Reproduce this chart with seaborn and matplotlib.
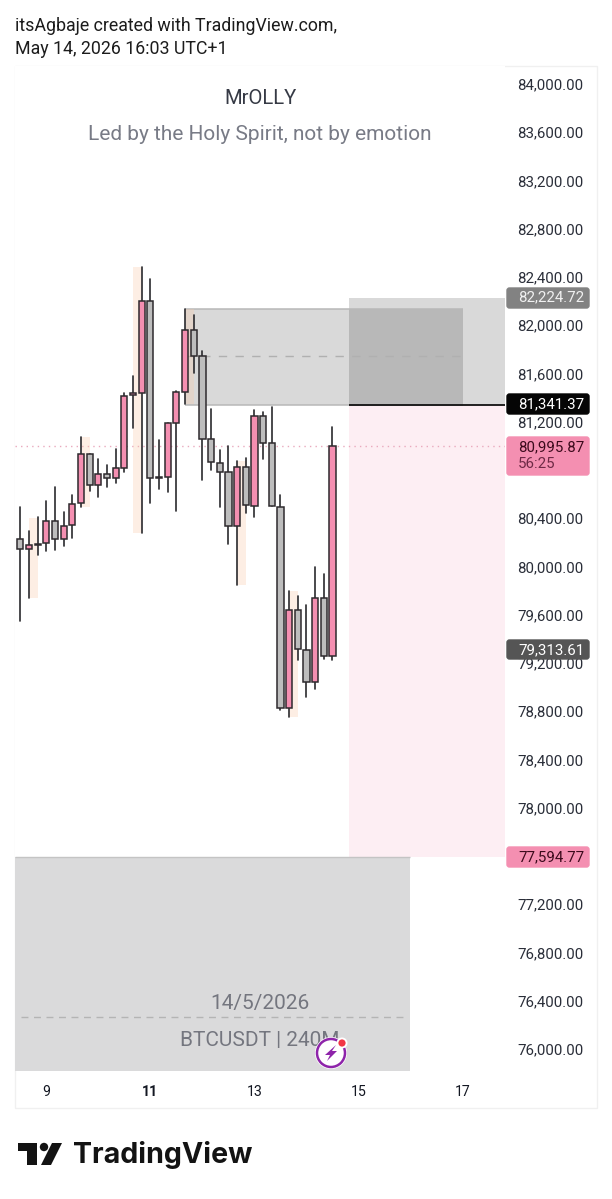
import matplotlib
matplotlib.use('Agg')
import matplotlib.pyplot as plt
import pandas as pd
import seaborn as sns
from matplotlib.patches import Rectangle, FancyBboxPatch, Circle, Polygon
from matplotlib.transforms import Affine2D

# 4h candles
opens = [80228, 80142, 80178, 80192, 80379, 80228, 80341, 80524, 80932, 80678, 80769, 80736, 80819,
         81419, 81435, 82203, 80744, 80739, 81193, 81446, 81960, 81742, 81054, 80860, 80780, 80333,
         80827, 80504, 81245, 81021, 80495, 78824, 79636, 79307, 79042, 79741, 79258]
closes = [80142, 80175, 80189, 80379, 80228, 80338, 80520, 80932, 80678, 80769, 80736, 80816, 81416,
          81435, 82203, 80736, 80736, 81192, 81444, 81960, 81745, 81059, 80866, 80785, 80333, 80827,
          80507, 81245, 81026, 80501, 78824, 79636, 79313, 79045, 79741, 79258, 80996]
highs = [80495, 80296, 80407, 80545, 80661, 80451, 80595, 81076, 80932, 80888, 80839, 80976, 81435,
         81581, 82480, 82381, 81048, 81192, 81457, 82137, 82082, 81789, 81303, 80963, 80999, 80872,
         80897, 81297, 81280, 81324, 80590, 79796, 79755, 79680, 79998, 79937, 81154]
lows = [79550, 79738, 80092, 80131, 80136, 80167, 80233, 80490, 80623, 80573, 80661, 80694, 80785,
        81148, 80280, 80528, 80640, 80620, 80464, 81344, 81601, 80717, 80800, 80495, 80186, 79846,
        80446, 80412, 80888, 80501, 78810, 78754, 79224, 78920, 78982, 79233, 79224]

# pale session bands behind some candles
band_start = [1, 7, 13, 19, 25, 31]
band_high = [80402, 81076, 82480, 82137, 80872, 79796]
band_low = [79738, 80490, 80280, 81344, 79846, 78754]

day_ticks = [3, 15, 27, 39, 51]
day_labels = ['9', '11', '13', '15', '17']
# 80,800 and 77,600 sit under the price tags in the original
price_ticks = [84000, 83600, 83200, 82800, 82400, 82000, 81600, 81200, 80400, 80000, 79600, 79200,
               78800, 78400, 78000, 77200, 76800, 76400, 76000]

sl_price = 82224.72
entry_price = 81341.37
last_price = 80995.87
tp_price = 77594.77
sma_price = 79313.61
upper_zone = (82137, 81341.37)
upper_mid = 81745
lower_mid = 76265

sns.set_theme(style='white')
plt.rcParams['font.family'] = ['Roboto', 'DejaVu Sans']

W, H = 612, 1199
fig = plt.figure(figsize=(W / 100, H / 100), dpi=100)
ax = fig.add_axes([15 / W, (H - 1071) / H, 490 / W, 1005 / H])
px = Affine2D().scale(1 / W, -1 / H).translate(0, 1) + fig.transFigure

df = pd.DataFrame({'bar': range(len(opens)), 'open': opens, 'close': closes, 'high': highs, 'low': lows})
df['top'] = df[['open', 'close']].max(axis=1)
df['bottom'] = df[['open', 'close']].min(axis=1)
df['body'] = df['top'] - df['bottom']
df['up'] = df['close'] >= df['open']

xmin, xmax = -0.61, 55.9
ymin, ymax = 75817.6, 84149.2

# zones and bands
gray = '#000000'
ax.add_patch(Rectangle((19, upper_zone[1]), 32, upper_zone[0] - upper_zone[1], fc=gray, alpha=0.15, lw=0, zorder=1))
ax.hlines(upper_zone, 19, 51, color='#b8b8b8', lw=1.1, zorder=1.1)
ax.add_patch(Rectangle((37.9, entry_price), xmax - 37.9, sl_price - entry_price, fc=gray, alpha=0.15, lw=0, zorder=1))
ax.add_patch(Rectangle((37.9, tp_price), xmax - 37.9, entry_price - tp_price, fc='#fdeef3', lw=0, zorder=0.9))
ax.add_patch(Rectangle((xmin, ymin), 44.9 - xmin, tp_price - ymin, fc='#dadadb', lw=0, zorder=1))
ax.hlines(tp_price, xmin, 44.9, color='#c4c4c4', lw=1, zorder=1.1)
ax.hlines(upper_mid, 19, 51, color='#b0b0b0', lw=1, linestyles=(0, (6, 6)), zorder=1.2)
ax.hlines(lower_mid, 0.1, 44.6, color='#b4b4b4', lw=1, linestyles=(0, (5, 4)), zorder=1.2)
ax.hlines(entry_price, 37.9, xmax, color='#111111', lw=1.3, zorder=1.3)
ax.axhline(last_price, color='#e9a9bd', lw=1, ls=(0, (1, 3)), zorder=1.2)
for s, h, l in zip(band_start, band_high, band_low):
    ax.add_patch(Rectangle((s, l), 1, h - l, fc='#f9c9a8', alpha=0.3, lw=0, zorder=1.4))

# wicks
wicks = df.melt(id_vars='bar', value_vars=['high', 'low'], value_name='price')
sns.lineplot(data=wicks, x='bar', y='price', units='bar', estimator=None, color='#2a2a2e', lw=1.2,
             ax=ax, legend=False, zorder=2)

# bodies, one call per colour
for is_up, col in [(True, '#f48fb1'), (False, '#bdbdbd')]:
    part = df[df['up'] == is_up]
    sns.barplot(data=part, x='bar', y='body', bottom=part['bottom'].values, native_scale=True, width=0.72,
                color=col, saturation=1, edgecolor='#2e2a2e', linewidth=1.1, errorbar=None, ax=ax, zorder=3)

ax.set_xlim(xmin, xmax)
ax.set_ylim(ymin, ymax)
ax.set_xlabel('')
ax.set_ylabel('')
ax.set_xticks(day_ticks)
ax.set_xticklabels(day_labels, fontsize=10.2, color='#131722')
ax.get_xticklabels()[1].set_fontweight('bold')
ax.yaxis.tick_right()
ax.set_yticks(price_ticks)
ax.set_yticklabels([f'{p:,.2f}' for p in price_ticks], fontsize=10.8, color='#2a2e39')
for lab in ax.get_yticklabels():
    lab.set_va('center_baseline')
ax.tick_params(axis='x', length=0, pad=10)
ax.tick_params(axis='y', length=0, pad=9)
for s in ax.spines.values():
    s.set_visible(False)

# outer frame
fig.add_artist(Rectangle((15, 66), 582, 1042, transform=px, fc='none', ec='#f0f0f0', lw=1, zorder=-1))

# header
fig.text(15, 26, 'itsAgbaje created with TradingView.com,', transform=px, fontsize=12.8, color='#1c1c1c', va='center')
fig.text(15, 49, 'May 14, 2026 16:03 UTC+1', transform=px, fontsize=12.8, color='#1c1c1c', va='center')

# watermark texts
fig.text(260, 98.5, 'MrOLLY', transform=px, fontsize=14.6, color='#363a45', ha='center', va='center', zorder=5)
fig.text(260, 134.5, 'Led by the Holy Spirit, not by emotion', transform=px, fontsize=15, color='#787b86',
         ha='center', va='center', zorder=5)
fig.text(260, 1004, '14/5/2026', transform=px, fontsize=15, color='#74767f', ha='center', va='center', zorder=5)
fig.text(260, 1040, 'BTCUSDT | 240M', transform=px, fontsize=15, color='#74767f', ha='center', va='center', zorder=5)

# price labels on the axis
def price_label(y0, y1, fc, lines, tc):
    fig.add_artist(FancyBboxPatch((507, y0 + 1), 82, y1 - y0 - 2, boxstyle='round,pad=0,rounding_size=2.5', transform=px,
                                  fc=fc, ec=fc, lw=1, zorder=6))
    for y, t, c in zip(*lines, tc):
        fig.text(518, y, t, transform=px, fontsize=10.8, color=c, va='center', zorder=7)

price_label(287, 309, '#828282', ([297.5], [f'{sl_price:,.2f}']), ['#f0f0f0'])
price_label(393, 415, '#050505', ([404.5], [f'{entry_price:,.2f}']), ['#ffffff'])
price_label(436, 476, '#f48fb1', ([447.5, 463.5], [f'{last_price:,.2f}', '56:25']), ['#3c0a1c', '#6e2a45'])
price_label(639, 660, '#555555', ([650.5], [f'{sma_price:,.2f}']), ['#ffffff'])
price_label(846, 868, '#f48fb1', ([857.5], [f'{tp_price:,.2f}']), ['#3c0a1c'])

# alert badge
fig.add_artist(Circle((331, 1053), 16, transform=px, fc='white', ec='none', zorder=8))
fig.add_artist(Circle((331, 1053), 14, transform=px, fc='white', ec='#8e24aa', lw=1.8, zorder=9))
fig.add_artist(Polygon([(336, 1045), (325, 1055), (330, 1055), (327, 1061), (337, 1051), (332, 1051)], transform=px,
                       fc='#8e24aa', ec='none', zorder=10))
fig.add_artist(Circle((342, 1043), 5.5, transform=px, fc='white', ec='none', zorder=10))
fig.add_artist(Circle((342, 1043), 3.6, transform=px, fc='#f23645', ec='none', zorder=11))

# logo
logo = '#131313'
fig.add_artist(Polygon([(18, 1143), (37, 1143), (37, 1165), (27, 1165), (27, 1151), (18, 1151)], transform=px, fc=logo, ec='none'))
fig.add_artist(Circle((44, 1147), 4.2, transform=px, fc=logo, ec='none'))
fig.add_artist(Polygon([(52, 1143), (62, 1143), (51, 1165), (41, 1165)], transform=px, fc=logo, ec='none'))
fig.text(73, 1155, 'TradingView', transform=px, fontsize=20.6, family=['Inter', 'DejaVu Sans'], fontweight='bold',
         color=logo, va='center')

fig.savefig('out.png', dpi=100, facecolor='white')
